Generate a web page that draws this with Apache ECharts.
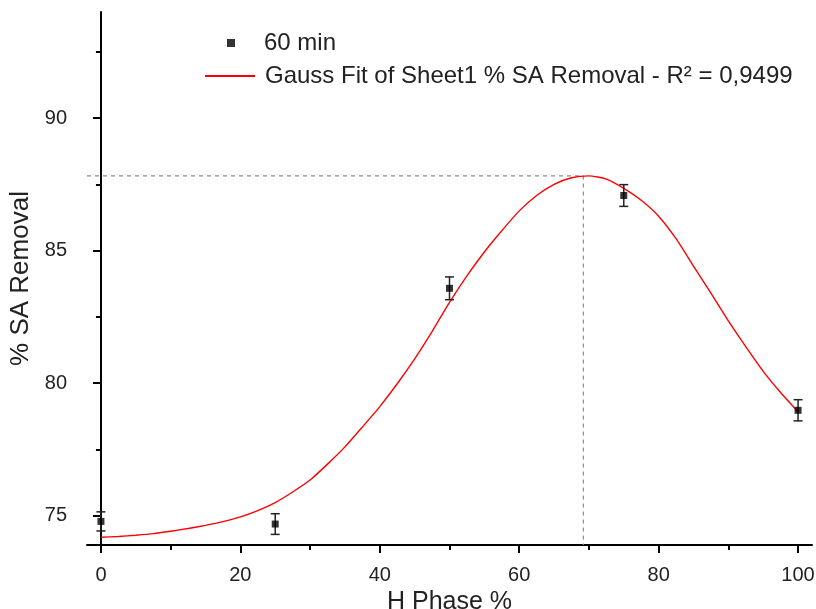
<!DOCTYPE html>
<html>
<head>
<meta charset="utf-8">
<title>% SA Removal vs H Phase %</title>
<script src="https://cdn.jsdelivr.net/npm/echarts@6/dist/echarts.min.js"></script>
<style>
  html, body { margin: 0; padding: 0; background: #fff; }
  #chart { width: 816px; height: 609px; }
</style>
</head>
<body>
<div id="chart"></div>
<script>
// measured points (60 min) with error bars
var hPhase = [0, 25, 50, 75, 100];
var removal = [74.79, 74.69, 83.58, 87.08, 78.98];
var removalErr = [0.36, 0.39, 0.43, 0.41, 0.40];

// Gauss fit curve
var fitX = [0, 2.5, 5, 7.5, 10, 12.5, 15, 17.5, 20, 22.5, 25, 27.5, 30, 32.5, 35, 37.5, 40, 42.5, 45, 47.5,
            50, 52.5, 55, 57.5, 60, 62.5, 65, 67.5, 70, 72.5, 75, 77.5, 80, 82.5, 85, 87.5, 90, 92.5, 95, 97.5, 100];
var fitY = [74.19, 74.22, 74.27, 74.33, 74.42, 74.52, 74.64, 74.78, 74.96, 75.2, 75.5, 75.9, 76.35, 76.95, 77.6, 78.35, 79.12, 79.98, 80.92, 81.95,
            83.05, 84.05, 84.95, 85.75, 86.5, 87.08, 87.5, 87.75, 87.82, 87.7, 87.35, 86.9, 86.3, 85.45, 84.42, 83.4, 82.35, 81.38, 80.45, 79.65, 78.92];

// fit maximum (dashed guide lines)
var peakX = 69.2;
var peakY = 87.82;

// axes
var xRange = [-2, 102];
var yRange = [73.9, 94];
var xTicks = [0, 20, 40, 60, 80, 100];
var xMinorTicks = [10, 30, 50, 70, 90];
var yTicks = [75, 80, 85, 90];
var yMinorTicks = [77.5, 82.5, 87.5, 92.5];

var pointName = '60 min';
var fitName = 'Gauss Fit of Sheet1 % SA Removal - R² = 0,9499';

var font = "'Liberation Sans', Arial, sans-serif";
var ink = '#222';

var myChart = echarts.init(document.getElementById('chart'));

var errData = hPhase.map(function (x, i) {
    return [x, removal[i] - removalErr[i], removal[i] + removalErr[i]];
});
var pointData = hPhase.map(function (x, i) { return [x, removal[i]]; });
var fitData = fitX.map(function (x, i) { return [x, fitY[i]]; });
var guideData = [[xRange[0], peakY], [peakX, peakY], [peakX, yRange[0]]];

function renderErr(params, api) {
    var x = api.value(0);
    var top = api.coord([x, api.value(2)]);
    var bot = api.coord([x, api.value(1)]);
    var half = 4.5;
    var st = { stroke: ink, lineWidth: 1.5 };
    return {
        type: 'group',
        children: [
            { type: 'line', shape: { x1: top[0], y1: top[1], x2: bot[0], y2: bot[1] }, style: st },
            { type: 'line', shape: { x1: top[0] - half, y1: top[1], x2: top[0] + half, y2: top[1] }, style: st },
            { type: 'line', shape: { x1: bot[0] - half, y1: bot[1], x2: bot[0] + half, y2: bot[1] }, style: st }
        ]
    };
}

var option = {
    animation: false,
    textStyle: { fontFamily: font },
    grid: { left: 87, right: 4, top: 12, bottom: 64, containLabel: false, outerBoundsMode: 'none' },
    legend: [
        {
            data: [pointName],
            left: 222, top: 26,
            icon: 'rect',
            itemWidth: 8, itemHeight: 8,
            textStyle: { fontSize: 24, color: ink, fontFamily: font, padding: [0, 0, 0, 24] }
        },
        {
            data: [fitName],
            left: 200, top: 59,
            icon: 'rect',
            itemWidth: 50, itemHeight: 2,
            textStyle: { fontSize: 24, color: ink, fontFamily: font, padding: [0, 0, 0, 5] }
        }
    ],
    xAxis: [
        {
            type: 'value', min: xRange[0], max: xRange[1],
            name: 'H Phase %', nameLocation: 'middle', nameGap: 39,
            nameTextStyle: { fontSize: 25, color: ink, fontFamily: font },
            splitLine: { show: false },
            axisLine: { lineStyle: { color: '#000', width: 2 } },
            axisTick: { customValues: xTicks, length: 8, lineStyle: { color: '#000', width: 2 } },
            axisLabel: { customValues: xTicks, margin: 20, fontSize: 20, color: ink, fontFamily: font }
        },
        {
            type: 'value', min: xRange[0], max: xRange[1], position: 'bottom',
            splitLine: { show: false },
            axisLine: { show: false },
            axisTick: { customValues: xMinorTicks, length: 5, lineStyle: { color: '#000', width: 2 } },
            axisLabel: { show: false }
        }
    ],
    yAxis: [
        {
            type: 'value', min: yRange[0], max: yRange[1],
            name: '% SA Removal', nameLocation: 'middle', nameGap: 42, nameRotate: 90,
            nameTextStyle: { fontSize: 26, color: ink, fontFamily: font },
            splitLine: { show: false },
            axisLine: { show: true, lineStyle: { color: '#000', width: 2 } },
            axisTick: { show: true, customValues: yTicks, length: 8, lineStyle: { color: '#000', width: 2 } },
            axisLabel: { customValues: yTicks, margin: 20, fontSize: 20, color: ink, fontFamily: font }
        },
        {
            type: 'value', min: yRange[0], max: yRange[1], position: 'left',
            splitLine: { show: false },
            axisLine: { show: false },
            axisTick: { show: true, customValues: yMinorTicks, length: 5, lineStyle: { color: '#000', width: 2 } },
            axisLabel: { show: false }
        }
    ],
    series: [
        {
            name: 'guide',
            type: 'line',
            data: guideData,
            symbol: 'none',
            silent: true,
            lineStyle: { color: '#8a8a8a', width: 1.2, type: [4, 4] },
            z: 1
        },
        {
            name: fitName,
            type: 'line',
            data: fitData,
            smooth: 0.2,
            symbol: 'none',
            color: '#ff0000',
            lineStyle: { color: '#ff0000', width: 1.4 },
            z: 2
        },
        {
            name: 'err',
            type: 'custom',
            data: errData,
            renderItem: renderErr,
            encode: { x: 0, y: [1, 2] },
            silent: true,
            z: 3
        },
        {
            name: pointName,
            type: 'scatter',
            data: pointData,
            symbol: 'rect',
            symbolSize: 7,
            itemStyle: { color: '#000' },
            z: 4
        }
    ]
};

myChart.setOption(option);

window.addEventListener('resize', function () {
    myChart.resize();
});
</script>
</body>
</html>
